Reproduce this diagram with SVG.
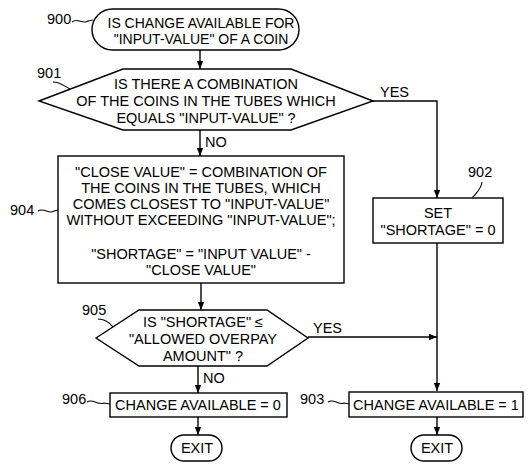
<svg xmlns="http://www.w3.org/2000/svg" width="530" height="469" viewBox="0 0 530 469">
  <defs>
    <marker id="arrow" viewBox="0 0 8 8" refX="8" refY="4" markerWidth="8" markerHeight="8" markerUnits="userSpaceOnUse" orient="auto">
      <path d="M0,0.8 L8,4 L0,7.2 Z" fill="#000"/>
    </marker>
    <style>
      .shape { fill: #fff; stroke: #000; stroke-width: 1.4; }
      .line { fill: none; stroke: #000; stroke-width: 1.4; }
      .lead { fill: none; stroke: #000; stroke-width: 1.1; }
      text { font-family: "Liberation Sans", Arial, sans-serif; font-size: 14.5px; fill: #000; }
      .c { text-anchor: middle; }
      .s { font-size: 14px; }
    </style>
  </defs>
  <rect width="530" height="469" fill="#fff"/>

  <!-- connectors -->
  <g id="connectors">
    <path class="line" d="M200,50 V69" marker-end="url(#arrow)"/>
    <path class="line" d="M373,101 H437 V198" marker-end="url(#arrow)"/>
    <path class="line" d="M200,130 V156" marker-end="url(#arrow)"/>
    <path class="line" d="M201,283 V310" marker-end="url(#arrow)"/>
    <path class="line" d="M437,243 V391" marker-end="url(#arrow)"/>
    <path class="line" d="M308,337 H437" marker-end="url(#arrow)"/>
    <path class="line" d="M198,366 V393" marker-end="url(#arrow)"/>
    <path class="line" d="M198,417 V435" marker-end="url(#arrow)"/>
    <path class="line" d="M437,417 V435" marker-end="url(#arrow)"/>
    <text x="380" y="97">YES</text>
    <text x="205" y="147">NO</text>
    <text x="313" y="333">YES</text>
    <text x="203" y="383">NO</text>
  </g>

  <!-- 900: start -->
  <g id="n900">
    <rect class="shape" x="92" y="9" width="207" height="41" rx="20.5" ry="20.5"/>
    <text class="c s" x="201" y="28">IS CHANGE AVAILABLE FOR</text>
    <text class="c s" x="201" y="44">"INPUT-VALUE" OF A COIN</text>
    <text x="47" y="24">900</text>
    <path class="lead" d="M72,22 C78,17 82,25 88,21 L93,20"/>
  </g>

  <!-- 901: exact combination test -->
  <g id="n901">
    <polygon class="shape" points="39,101 123,69 291,69 373,101 291,130 123,130"/>
    <text class="c" x="206" y="89">IS THERE A COMBINATION</text>
    <text class="c" x="206" y="106">OF THE COINS IN THE TUBES WHICH</text>
    <text class="c" x="206" y="123">EQUALS "INPUT-VALUE" ?</text>
    <text x="37" y="78">901</text>
    <path class="lead" d="M53,82 C60,82 64,86 70,89"/>
  </g>

  <!-- 902: zero shortage -->
  <g id="n902">
    <rect class="shape" x="373" y="198" width="130" height="45"/>
    <text class="c" x="438" y="218">SET</text>
    <text class="c" x="438" y="235">"SHORTAGE" = 0</text>
    <text x="468" y="177">902</text>
    <path class="lead" d="M482,182 C481,190 476,193 472,198"/>
  </g>

  <!-- 904: closest value and shortage -->
  <g id="n904">
    <rect class="shape" x="58" y="156" width="286" height="127"/>
    <text class="c" x="201" y="177">"CLOSE VALUE" = COMBINATION OF</text>
    <text class="c" x="201" y="193">THE COINS IN THE TUBES, WHICH</text>
    <text class="c" x="201" y="209">COMES CLOSEST TO "INPUT-VALUE"</text>
    <text class="c" x="201" y="225">WITHOUT EXCEEDING "INPUT-VALUE";</text>
    <text class="c" x="201" y="259">"SHORTAGE" = "INPUT VALUE" -</text>
    <text class="c" x="201" y="275">"CLOSE VALUE"</text>
    <text x="10" y="215">904</text>
    <path class="lead" d="M38,211 C44,207 49,215 54,211 L58,210"/>
  </g>

  <!-- 905: overpay test -->
  <g id="n905">
    <polygon class="shape" points="96,338 139,310 267,310 308,338 267,366 139,366"/>
    <text class="c" x="203" y="327">IS "SHORTAGE" ≤</text>
    <text class="c" x="203" y="344">"ALLOWED OVERPAY</text>
    <text class="c" x="203" y="361">AMOUNT" ?</text>
    <text x="82" y="315">905</text>
    <path class="lead" d="M98,319 C105,319 109,322 113,327"/>
  </g>

  <!-- 906: no change -->
  <g id="n906">
    <rect class="shape" x="110" y="393" width="177" height="24"/>
    <text class="c" x="198" y="410">CHANGE AVAILABLE = 0</text>
    <text x="62" y="404">906</text>
    <path class="lead" d="M87,402 C93,398 98,406 104,403 L110,404"/>
  </g>

  <!-- 903: change available -->
  <g id="n903">
    <rect class="shape" x="349" y="392" width="174" height="25"/>
    <text class="c" x="436" y="410">CHANGE AVAILABLE = 1</text>
    <text x="300" y="404">903</text>
    <path class="lead" d="M328,402 C334,398 339,406 344,403 L349,404"/>
  </g>

  <!-- exits -->
  <g id="exit1">
    <rect class="shape" x="171" y="435" width="51" height="26" rx="13" ry="13"/>
    <text class="c" x="197" y="453">EXIT</text>
  </g>
  <g id="exit2">
    <rect class="shape" x="411" y="435" width="51" height="26" rx="13" ry="13"/>
    <text class="c" x="437" y="453">EXIT</text>
  </g>
</svg>
